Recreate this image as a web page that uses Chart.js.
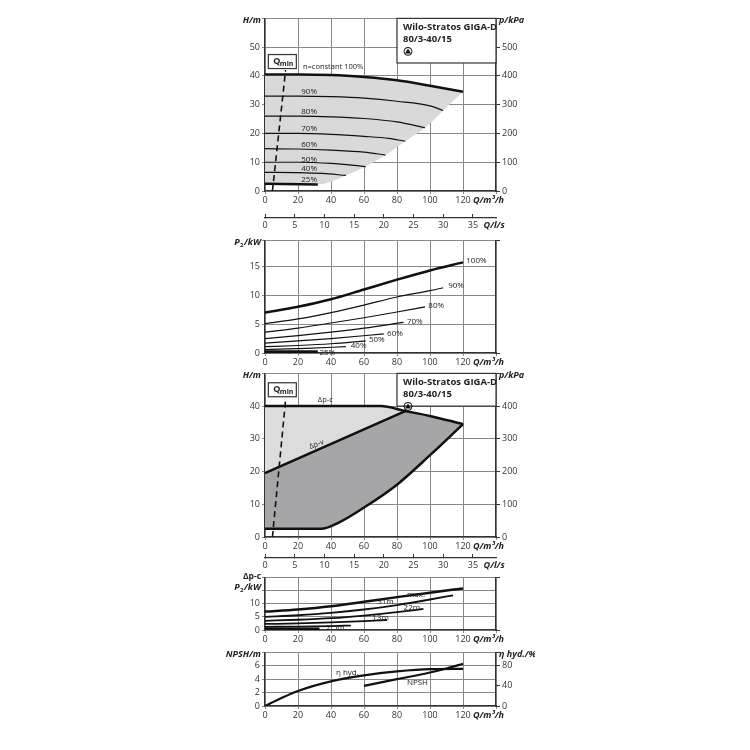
<!DOCTYPE html>
<html><head><meta charset="utf-8">
<script src="https://cdn.jsdelivr.net/npm/chart.js@4"></script>
<style>
body{margin:0;background:#fff;width:750px;height:750px;position:relative;overflow:hidden}
.c{position:absolute;left:215px;width:320px}
</style></head><body>
<div class="c" style="top:11px;height:198px"><canvas id="c1"></canvas></div>
<div class="c" style="top:213px;height:25px"><canvas id="q1"></canvas></div>
<div class="c" style="top:233px;height:138px"><canvas id="c2"></canvas></div>
<div class="c" style="top:366px;height:189px"><canvas id="c3"></canvas></div>
<div class="c" style="top:553px;height:25px"><canvas id="q2"></canvas></div>
<div class="c" style="top:570px;height:78px"><canvas id="c4"></canvas></div>
<div class="c" style="top:645px;height:79px"><canvas id="c5"></canvas></div>
<script>
// Q in m3/h
const h100 = [[0,40.5],[20,40.5],[40,40.3],[60,39.6],[80,38.5],[100,36.6],[120,34.5]]
const h90 = [[0,33],[20,33],[40,32.8],[60,32.3],[80,31.2],[100,29.6],[108,28]]
const h80 = [[0,26],[20,26],[40,25.8],[60,25.2],[80,24],[97,22]]
const h70 = [[0,20],[20,20],[40,19.7],[60,19],[75,18.3],[85,17.3]]
const h60 = [[0,14.7],[20,14.6],[40,14.2],[60,13.5],[73,12.5]]
const h50 = [[0,10],[20,10],[40,9.6],[61,8.5]]
const h40 = [[0,6.5],[20,6.4],[35,6.1],[49,5.4]]
const h25 = [[0,2.5],[32,2.3]]
const hEdge = [[0,2.5],[32,2.3],[49,5.4],[61,8.5],[73,12.5],[85,17.3],[97,22],[108,28],[120,34.5]]
const hLabels = ["90%","80%","70%","60%","50%","40%","25%"]
const hLabelY = [34.5,27.5,21.5,16,11,7.6,3.8]
const qmin = [[4.5,0],[12.5,42]]
const qlsTicks = [0,5,10,15,20,25,30,35]

const p100 = [[0,7],[20,8],[40,9.3],[60,11],[80,12.7],[100,14.3],[120,15.7]]
const p90 = [[0,5.1],[20,5.9],[40,7],[60,8.3],[80,9.7],[100,10.8],[108,11.3]]
const p80 = [[0,3.6],[20,4.3],[40,5.2],[60,6.1],[80,7.1],[97,8]]
const p70 = [[0,2.5],[20,3],[40,3.6],[60,4.3],[84,5.3]]
const p60 = [[0,1.7],[20,2.1],[40,2.5],[72,3.3]]
const p50 = [[0,1.1],[20,1.3],[40,1.6],[61,2.1]]
const p40 = [[0,0.6],[25,0.8],[49,1.1]]
const p25 = [[0,0.2],[32,0.2]]
const pLabels = ["100%","90%","80%","70%","60%","50%","40%","25%"]

const dpTop = [[0,40],[70,40],[85,38.5],[100,37],[120,34.5]]
const dpTopFill = [[0,40],[70,40],[85,38.5]]
const dpV = [[0,19.5],[85,38.5]]
const dpUpper = [[0,19.5],[85,38.5],[100,37],[120,34.5]]
const dpLower = [[0,2.5],[34,2.5],[45,4.5],[60,9],[80,16],[100,25],[120,34.5]]

const pMax = [[0,7],[20,7.8],[40,9],[60,10.7],[80,12.5],[100,14.2],[120,15.8]]
const p31 = [[0,5],[20,5.6],[40,6.5],[60,7.8],[80,9.5],[100,11.6],[114,13.2]]
const p22 = [[0,3.5],[20,3.9],[40,4.5],[60,5.5],[80,6.8],[96,8]]
const p13 = [[0,2.3],[20,2.5],[40,2.9],[60,3.4],[74,3.8]]
const p2_5 = [[0,1.2],[20,1.3],[40,1.5],[52,1.7]]
const p2_5b = [[0,0.5],[33,0.5]]

const eta = [[0,0],[10,16],[20,30],[40,49],[60,61],[80,69],[100,73.5],[120,74]]
const npsh = [[60,3],[80,4],[100,5],[110,5.6],[120,6.3]]

const F = "'Open Sans', sans-serif"
const pts = a => a.map(p => ({x:p[0], y:p[1]}))
function ln(d, w, extra){
  return Object.assign({data:pts(d), showLine:true, borderColor:'#111', borderWidth:w, pointRadius:0, tension:0.4, cubicInterpolationMode:'monotone', fill:false, order:0}, extra||{})
}
function area(d, target, color){
  return ln(d, 0, {fill:{target:target}, backgroundColor:color, order:10})
}
function txt(ctx, s, x, y, o){
  o = o||{}
  ctx.save()
  ctx.font = (o.font||'9px') + ' ' + F
  ctx.fillStyle = o.color||'#222'
  ctx.textAlign = o.align||'left'
  ctx.textBaseline = o.base||'middle'
  ctx.fillText(s, x, y)
  const w = ctx.measureText(s).width
  ctx.restore()
  return w
}
function p2Title(ctx, x, y){
  const w1 = txt(ctx, '/kW', x, y, {font:'italic bold 9px', align:'right'})
  const w2 = txt(ctx, '2', x-w1-0.5, y+3, {font:'bold 6px', align:'right'})
  txt(ctx, 'P', x-w1-w2-1, y, {font:'italic bold 9px', align:'right'})
}
function fixW(w){ return s => { s.width = w } }
function fixH(h){ return s => { s.height = h } }

function xAxis(){
  return {type:'linear', min:0, max:140, afterFit:fixH(18),
    grid:{color:'#888', lineWidth:1, drawTicks:true, tickLength:3},
    border:{color:'#333', width:1.2},
    ticks:{stepSize:20, autoSkip:false, color:'#333', font:{size:9, family:F}, padding:1, callback:v => v<=120 ? v : ''}}
}
function yAxis(min, max, step, maxLabel){
  return {type:'linear', min:min, max:max, afterFit:fixW(50), position:'left',
    grid:{color:'#888', lineWidth:1, tickLength:3},
    border:{color:'#333', width:1.2},
    ticks:{stepSize:step, autoSkip:false, color:'#333', font:{size:9, family:F}, padding:2, callback:v => v<=maxLabel ? v : ''}}
}
function rAxis(min, max, step, maxLabel){
  return {type:'linear', min:min, max:max, afterFit:fixW(39), position:'right',
    grid:{drawOnChartArea:false, tickLength:4, color:'#333'},
    border:{color:'#333', width:1.2},
    ticks:{stepSize:step, autoSkip:false, color:'#333', font:{size:9, family:F}, padding:2, callback:v => v<=maxLabel ? Math.round(v) : ''}}
}
function qTitle(chart){
  const xs = chart.scales.x
  txt(chart.ctx, 'Q/m³/h', xs.getPixelForValue(126), xs.top+9, {font:'italic bold 9px'})
}
function infoBox(chart, yTop){
  const ctx = chart.ctx, x = chart.scales.x, y = chart.scales.y, a = chart.chartArea
  const l = x.getPixelForValue(80), b = y.getPixelForValue(yTop)
  ctx.save()
  ctx.fillStyle = '#fff'; ctx.fillRect(l, a.top, a.right-l, b-a.top)
  ctx.strokeStyle = '#333'; ctx.lineWidth = 1.2; ctx.strokeRect(l, a.top, a.right-l, b-a.top)
  ctx.restore()
  txt(ctx, 'Wilo-Stratos GIGA-D', l+6, a.top+9, {font:'bold 9.5px'})
  txt(ctx, '80/3-40/15', l+6, a.top+21, {font:'bold 9.5px'})
  const cx = l+11, cy = a.top+33
  ctx.save()
  ctx.beginPath(); ctx.arc(cx, cy, 4, 0, Math.PI*2); ctx.strokeStyle='#111'; ctx.lineWidth=1; ctx.stroke()
  ctx.beginPath(); ctx.moveTo(cx, cy-3); ctx.lineTo(cx+3, cy+2.2); ctx.lineTo(cx-3, cy+2.2); ctx.closePath(); ctx.fillStyle='#111'; ctx.fill()
  ctx.restore()
}
function qminBox(chart, yv){
  const ctx = chart.ctx, x = chart.scales.x.getPixelForValue(10.5), y = chart.scales.y.getPixelForValue(yv)
  ctx.save()
  ctx.fillStyle='#fff'; ctx.fillRect(x-14, y-7, 28, 14)
  ctx.strokeStyle='#333'; ctx.lineWidth=1.2; ctx.strokeRect(x-14, y-7, 28, 14)
  ctx.restore()
  txt(ctx, 'Q', x-9, y, {font:'bold 9px'})
  txt(ctx, 'min', x-2.5, y+2, {font:'bold 7px'})
}

function make(id, top, datasets, scales, draw){
  return new Chart(document.getElementById(id), {
    type:'scatter',
    data:{datasets:datasets},
    options:{responsive:true, maintainAspectRatio:false, animation:false,
      layout:{padding:{top:top, left:0, right:0, bottom:0}},
      plugins:{legend:{display:false}, tooltip:{enabled:false}},
      scales:scales},
    plugins:[{id:'deco', afterDraw:draw}]
  })
}

// panel 1: H curves
make('c1', 5, [
  area(h100, 1, '#d9d9d9'),
  ln(hEdge, 0),
  ln(h100, 2.5), ln(h90, 1.2), ln(h80, 1.2), ln(h70, 1.2), ln(h60, 1.2), ln(h50, 1.2), ln(h40, 1.2),
  ln(h25, 2.5, {tension:0}),
  ln(qmin, 1.6, {borderDash:[6,4], tension:0})
], {x:xAxis(), y:yAxis(0,60,10,50), y1:rAxis(0,600,100,500)}, chart => {
  const ctx = chart.ctx, x = chart.scales.x, y = chart.scales.y, a = chart.chartArea
  infoBox(chart, 44.5)
  qminBox(chart, 45)
  txt(ctx, 'H/m', a.left-4, a.top+2, {font:'italic bold 9px', align:'right'})
  txt(ctx, 'p/kPa', a.right+3, a.top+2, {font:'italic bold 9px'})
  txt(ctx, 'n=constant 100%', x.getPixelForValue(23), y.getPixelForValue(43), {font:'7.5px'})
  hLabels.forEach((s,i) => txt(ctx, s, x.getPixelForValue(22), y.getPixelForValue(hLabelY[i]), {font:'8px'}))
  qTitle(chart)
})

// l/s axis
function qAxis(id){
  new Chart(document.getElementById(id), {
    type:'scatter', data:{datasets:[]},
    options:{responsive:true, maintainAspectRatio:false, animation:false,
      layout:{padding:{top:0}},
      plugins:{legend:{display:false}},
      scales:{
        x:{type:'linear', min:0, max:140/3.6, afterFit:fixH(20),
          afterBuildTicks:s => { s.ticks = qlsTicks.map(v => ({value:v})) },
          grid:{drawOnChartArea:false, tickLength:-4, color:'#333'},
          border:{color:'#333', width:1.2},
          ticks:{autoSkip:false, color:'#333', font:{size:9, family:F}, padding:6, callback:v => v}},
        y:{min:0, max:1, afterFit:fixW(50), ticks:{display:false}, grid:{display:false}, border:{display:false}},
        y1:{position:'right', min:0, max:1, afterFit:fixW(39), ticks:{display:false}, grid:{display:false}, border:{display:false}}
      }},
    plugins:[{id:'lbl', afterDraw:chart => txt(chart.ctx, 'Q/l/s', chart.scales.x.getPixelForValue(36.8), chart.scales.x.top+7, {font:'italic bold 9px'})}]
  })
}
qAxis('q1'); qAxis('q2')

// panel 2: P2
make('c2', 5, [
  ln(p100, 2.5), ln(p90, 1.2), ln(p80, 1.2), ln(p70, 1.2), ln(p60, 1.2), ln(p50, 1.2), ln(p40, 1.2),
  ln(p25, 3, {tension:0})
], {x:xAxis(), y:yAxis(0,19.5,5,15), y1:rAxis(0,1,1,-1)}, chart => {
  const ctx = chart.ctx, x = chart.scales.x, y = chart.scales.y, a = chart.chartArea
  p2Title(ctx, a.left-4, a.top+2)
  const ends = [[122,16],[111,11.7],[99,8.2],[86,5.5],[74,3.4],[63,2.3],[52,1.2],[33,0.1]]
  pLabels.forEach((s,i) => txt(ctx, s, x.getPixelForValue(ends[i][0]), y.getPixelForValue(ends[i][1]), {font:'8px'}))
  qTitle(chart)
})

// panel 3: control ranges
make('c3', 5, [
  area(dpTopFill, 1, '#dcdcdc'),
  ln(dpV, 0, {tension:0}),
  ln(dpUpper, 0, {tension:0, fill:{target:3}, backgroundColor:'#a6a6a8', order:10}),
  ln(dpLower, 0),
  ln(dpTop, 2.5), ln(dpV, 2.5, {tension:0}), ln(dpLower, 2.5),
  ln(qmin, 1.6, {borderDash:[6,4], tension:0})
], {x:xAxis(), y:yAxis(0,50,10,40), y1:rAxis(0,500,100,400)}, chart => {
  const ctx = chart.ctx, x = chart.scales.x, y = chart.scales.y, a = chart.chartArea
  infoBox(chart, 40)
  qminBox(chart, 45)
  txt(ctx, 'H/m', a.left-4, a.top+2, {font:'italic bold 9px', align:'right'})
  txt(ctx, 'p/kPa', a.right+3, a.top+2, {font:'italic bold 9px'})
  txt(ctx, 'Δp-c', x.getPixelForValue(32), y.getPixelForValue(42), {font:'7.5px'})
  ctx.save()
  ctx.translate(x.getPixelForValue(27), y.getPixelForValue(27.5))
  ctx.rotate(-0.36)
  txt(ctx, 'Δp-v', 0, 0, {font:'7.5px'})
  ctx.restore()
  qTitle(chart)
})

// panel 4: P2 for Δp-c
make('c4', 5, [
  ln(pMax, 2.5), ln(p31, 1.8), ln(p22, 1.8), ln(p13, 1.8), ln(p2_5, 1.8), ln(p2_5b, 2.5, {tension:0})
], {x:xAxis(), y:yAxis(0,20,5,10), y1:rAxis(0,1,1,-1)}, chart => {
  const ctx = chart.ctx, x = chart.scales.x, y = chart.scales.y, a = chart.chartArea
  txt(ctx, 'Δp-c', a.left-4, a.top-1, {font:'bold 8.5px', align:'right'})
  p2Title(ctx, a.left-4, a.top+10)
  const lab = [['max.',86,13.6],['31m',68,10.6],['22m',84,8.3],['13m',65,4.5],['2.5m',37,0.8]]
  lab.forEach(l => txt(ctx, l[0], x.getPixelForValue(l[1]), y.getPixelForValue(l[2]), {font:'8px'}))
  qTitle(chart)
})

// panel 5: NPSH / efficiency
make('c5', 5, [
  ln(eta, 2.2, {yAxisID:'y1'}), ln(npsh, 2.2)
], {x:xAxis(), y:yAxis(0,8,2,6), y1:rAxis(0,320/3,40,80)}, chart => {
  const ctx = chart.ctx, x = chart.scales.x, y = chart.scales.y, a = chart.chartArea
  txt(ctx, 'NPSH/m', a.left-4, a.top+2, {font:'italic bold 9px', align:'right'})
  txt(ctx, 'η hyd./%', a.right+3, a.top+2, {font:'italic bold 9px'})
  txt(ctx, 'η hyd.', x.getPixelForValue(43), y.getPixelForValue(5), {font:'8px'})
  txt(ctx, 'NPSH', x.getPixelForValue(86), y.getPixelForValue(3.5), {font:'8px'})
  qTitle(chart)
})
</script>
</body></html>
